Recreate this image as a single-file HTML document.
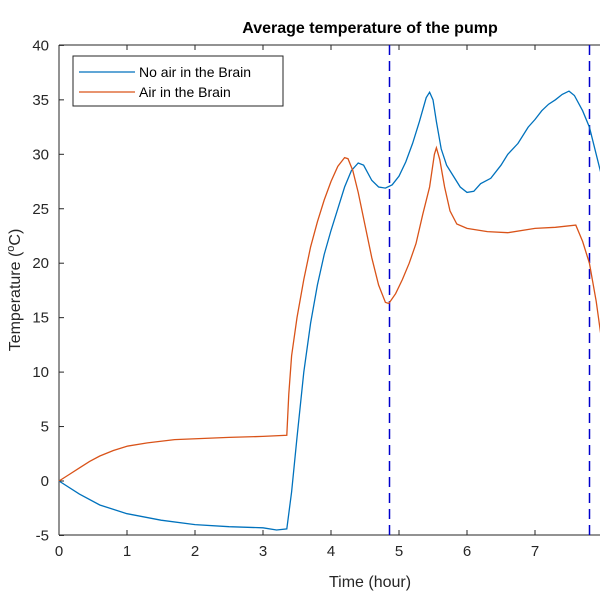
<!DOCTYPE html>
<html><head><meta charset="utf-8"><style>
html,body{margin:0;padding:0;background:#fff;width:600px;height:600px;overflow:hidden}
text{font-family:"Liberation Sans",Arial,sans-serif}
</style></head><body>
<svg id="s" width="600" height="600" xmlns="http://www.w3.org/2000/svg">
<rect width="600" height="600" fill="#fff"/>
<text x="370" y="33" font-size="16" font-weight="bold" text-anchor="middle" fill="#000">Average temperature of the pump</text>
<g id="ticks" stroke="#262626" stroke-width="1"></g>
<line x1="59" y1="45" x2="600" y2="45" stroke="#262626"/>
<line x1="59" y1="45" x2="59" y2="535" stroke="#262626"/>
<line x1="59" y1="535" x2="600" y2="535" stroke="#262626"/>
<line x1="389.5" y1="45" x2="389.5" y2="535" stroke="#0000cc" stroke-width="1.5" stroke-dasharray="10,6"/>
<line x1="589.5" y1="45" x2="589.5" y2="535" stroke="#0000cc" stroke-width="1.5" stroke-dasharray="10,6"/>
<polyline id="blue" fill="none" stroke="#0072BD" stroke-width="1.3"/>
<polyline id="red" fill="none" stroke="#D95319" stroke-width="1.3"/>
<g id="lab" font-size="15" fill="#262626"></g>
<text x="370" y="587" font-size="16" text-anchor="middle" fill="#262626">Time (hour)</text>
<text transform="translate(20,290) rotate(-90)" font-size="16" text-anchor="middle" fill="#262626">Temperature (<tspan font-size="11" dy="-6">o</tspan><tspan dy="6">C)</tspan></text>
<rect x="73" y="56" width="210" height="50" fill="#fff" stroke="#262626"/>
<line x1="79" y1="72" x2="135" y2="72" stroke="#0072BD" stroke-width="1.3"/>
<line x1="79" y1="92" x2="135" y2="92" stroke="#D95319" stroke-width="1.3"/>
<text x="139" y="77" font-size="14" fill="#000">No air in the Brain</text>
<text x="139" y="97" font-size="14" fill="#000">Air in the Brain</text>
</svg>
<script>
var X=t=>59+68*t, Y=v=>481-10.89*v;
var tk=document.getElementById('ticks'),lab=document.getElementById('lab'),ns='http://www.w3.org/2000/svg';
function el(p,n,a,tx){var e=document.createElementNS(ns,n);for(var k in a)e.setAttribute(k,a[k]);if(tx!=null)e.textContent=tx;p.appendChild(e);}
for(var i=0;i<=7;i++){var x=X(i);el(tk,'line',{x1:x,y1:535,x2:x,y2:530});el(tk,'line',{x1:x,y1:45,x2:x,y2:50});el(lab,'text',{x:x,y:556,'text-anchor':'middle'},i);}
for(var v=-5;v<=40;v+=5){var y=Y(v);el(tk,'line',{x1:59,y1:y,x2:64,y2:y});el(lab,'text',{x:49,y:y+5,'text-anchor':'end'},v);}
var B=[[0,0],[0.3,-1.2],[0.6,-2.2],[1,-3],[1.5,-3.6],[2,-4],[2.5,-4.2],[3,-4.3],[3.2,-4.5],[3.35,-4.4],[3.42,-1],[3.5,4],[3.6,10],[3.7,14.5],[3.8,18],[3.9,20.8],[4,23],[4.1,25],[4.2,27],[4.3,28.5],[4.4,29.2],[4.48,29],[4.6,27.6],[4.7,27],[4.8,26.9],[4.9,27.2],[5,28],[5.1,29.3],[5.2,31],[5.3,33],[5.4,35.2],[5.45,35.7],[5.5,35],[5.55,33],[5.62,30.5],[5.7,29],[5.8,28],[5.9,27],[6,26.5],[6.1,26.6],[6.2,27.3],[6.35,27.8],[6.5,29],[6.6,30],[6.75,31],[6.9,32.5],[7,33.2],[7.1,34],[7.2,34.6],[7.3,35],[7.4,35.5],[7.5,35.8],[7.58,35.4],[7.7,34],[7.8,32.5],[7.9,30],[8,27.5]];
var R=[[0,0],[0.15,0.6],[0.3,1.2],[0.45,1.8],[0.6,2.3],[0.8,2.8],[1,3.2],[1.3,3.5],[1.7,3.8],[2.1,3.9],[2.5,4],[3,4.1],[3.35,4.2],[3.38,8],[3.42,11.5],[3.5,15],[3.6,18.5],[3.7,21.5],[3.8,23.8],[3.9,25.8],[4,27.5],[4.1,28.9],[4.2,29.7],[4.25,29.6],[4.32,28.5],[4.4,26.5],[4.5,23.5],[4.6,20.5],[4.7,18],[4.8,16.4],[4.85,16.3],[4.95,17.2],[5.05,18.5],[5.15,20],[5.25,21.8],[5.35,24.5],[5.45,27],[5.52,30],[5.55,30.6],[5.6,29.5],[5.67,27],[5.75,24.8],[5.85,23.6],[6,23.2],[6.3,22.9],[6.6,22.8],[7,23.2],[7.3,23.3],[7.6,23.5],[7.7,22],[7.8,20],[7.9,16.5],[8,12]];
function P(a){return a.map(p=>X(p[0]).toFixed(1)+','+Y(p[1]).toFixed(1)).join(' ');}
document.getElementById('blue').setAttribute('points',P(B));
document.getElementById('red').setAttribute('points',P(R));
</script>
</body></html>
